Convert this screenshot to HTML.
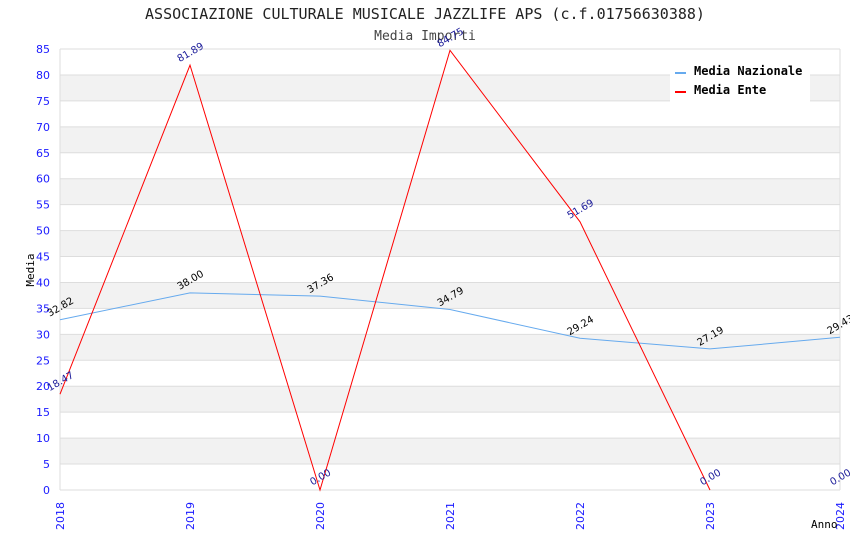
<!DOCTYPE html>
<html><head><meta charset="utf-8"><style>
body{margin:0;background:#fff;width:850px;height:550px;overflow:hidden}
svg{font-family:"DejaVu Sans","Liberation Sans",sans-serif}
.mono{font-family:"DejaVu Sans Mono","Liberation Mono",monospace}
</style></head><body>
<svg id="c" width="850" height="550"></svg>
<script>
const categories=["2018","2019","2020","2021","2022","2023","2024"];
const nazionale=[32.82,38.00,37.36,34.79,29.24,27.19,29.43];
const ente=[18.47,81.89,0.00,84.75,51.69,0.00,null];
const yTicks=[0,5,10,15,20,25,30,35,40,45,50,55,60,65,70,75,80,85];
const NS="http://www.w3.org/2000/svg";
const svg=document.getElementById('c');
const L=60,R=840,T=49,B=490,YMAX=85;
const xs=i=>L+i*(R-L)/(categories.length-1);
const ys=v=>B-v*(B-T)/YMAX;
function mk(t,a,p){const e=document.createElementNS(NS,t);for(const k in a)e.setAttribute(k,a[k]);(p||svg).appendChild(e);return e;}
let t=mk('text',{x:425,y:19,'text-anchor':'middle','font-size':15,fill:'#222',class:'mono'});


t.textContent="ASSOCIAZIONE CULTURALE MUSICALE JAZZLIFE APS (c.f.01756630388)";
t=mk('text',{x:425,y:40,'text-anchor':'middle','font-size':13,fill:'#444',class:'mono'});


t.textContent="Media Importi";
for(let i=0;i<yTicks.length-1;i++){
 if(i%2===1){const r=mk('rect',{x:L,y:ys(yTicks[i+1]),width:R-L,height:ys(yTicks[i])-ys(yTicks[i+1]),fill:'#f2f2f2'});
 
 }
}
yTicks.forEach(v=>{
 const g=mk('line',{x1:L,x2:R,y1:ys(v),y2:ys(v),stroke:'#ddd'});
 
 
 const l=mk('text',{x:50,y:ys(v)+4,'text-anchor':'end','font-size':11,fill:'#1a1aff'});
 
 
 l.textContent=v;
});
mk('line',{x1:L,x2:L,y1:T,y2:B,stroke:'#ddd'});
mk('line',{x1:R,x2:R,y1:T,y2:B,stroke:'#ddd'});
categories.forEach((c,i)=>{
 const l=mk('text',{transform:`translate(${xs(i)+4},${B+40}) rotate(-90)`,'font-size':11,fill:'#1a1aff'});
 
 
 l.textContent=c;
});
t=mk('text',{transform:'translate(34,270) rotate(-90)','text-anchor':'middle','font-size':11,fill:'#000',class:'mono'});


t.textContent="Media";
t=mk('text',{x:811,y:528,'font-size':11,fill:'#000',class:'mono'});


t.textContent="Anno";
function series(vals,color,lblColor,name){
 const pts=[];vals.forEach((v,i)=>{if(v!==null)pts.push(xs(i)+','+ys(v));});
 const p=mk('polyline',{points:pts.join(' '),fill:'none',stroke:color,'stroke-width':1});
 
 
 vals.forEach((v,i)=>{
  const vv=v===null?0:v;
  const l=mk('text',{transform:`translate(${xs(i)+2},${ys(vv)-10}) rotate(-30)`,'text-anchor':'middle','font-size':10,fill:lblColor});
  
  
  l.textContent=vv.toFixed(2);
 });
}
series(nazionale,'#66aaee','#000','nazionale');
series(ente,'#ff0000','#1a1a99','ente');
const lg=mk('g',{});


mk('rect',{x:670,y:60,width:140,height:42,fill:'#fff'},lg);
mk('line',{x1:675,x2:686,y1:73,y2:73,stroke:'#66aaee','stroke-width':2},lg);
mk('line',{x1:675,x2:686,y1:92,y2:92,stroke:'#ff0000','stroke-width':2},lg);
t=mk('text',{x:694,y:75,'font-size':12,'font-weight':'bold',fill:'#000',class:'mono'},lg);


t.textContent="Media Nazionale";
t=mk('text',{x:694,y:94,'font-size':12,'font-weight':'bold',fill:'#000',class:'mono'},lg);


t.textContent="Media Ente";
</script>
</body></html>
